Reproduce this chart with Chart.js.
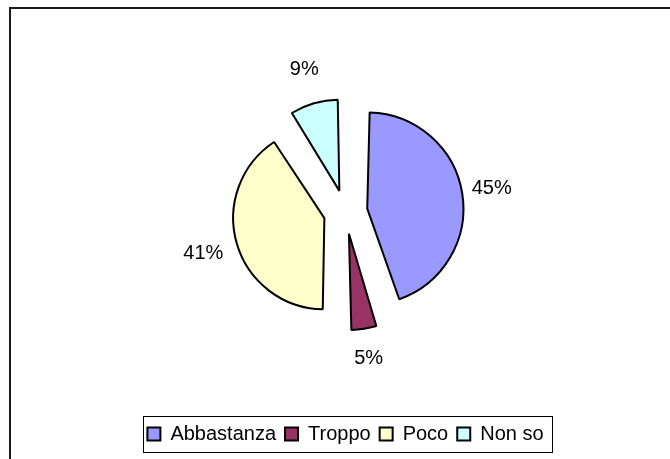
<!DOCTYPE html>
<html>
<head>
<meta charset="utf-8">
<script src="https://cdn.jsdelivr.net/npm/chart.js@4.4.1/dist/chart.umd.min.js"></script>
<style>
  html, body { margin: 0; padding: 0; background: #ffffff; }
  #wrap { width: 670px; height: 459px; position: relative; }
  canvas { display: block; }
</style>
</head>
<body>
<div id="wrap"><canvas id="c" width="670" height="459"></canvas></div>
<script>
const categories = ['Abbastanza', 'Troppo', 'Poco', 'Non so'];
const values = [45, 5, 41, 9];
const percentLabels = ['45%', '5%', '41%', '9%'];
const sliceColors = ['#9999FF', '#993366', '#FFFFCC', '#CCFFFF'];

const FONT = "'Liberation Sans', Arial, sans-serif";
const EXPLODE = 88;

const framePlugin = {
  id: 'frame',
  beforeDraw(chart) {
    const ctx = chart.ctx;
    ctx.save();
    ctx.fillStyle = '#ffffff';
    ctx.fillRect(0, 0, chart.width, chart.height);
    ctx.strokeStyle = '#1a1a1a';
    ctx.lineWidth = 2;
    ctx.strokeRect(10, 8, chart.width + 20, chart.height + 20);
    ctx.restore();
  },
  afterDraw(chart) {
    const lg = chart.legend;
    if (!lg || !lg.legendHitBoxes || !lg.legendHitBoxes.length) return;
    let minX = Infinity, maxX = -Infinity, minY = Infinity, maxY = -Infinity;
    lg.legendHitBoxes.forEach(b => {
      minX = Math.min(minX, b.left); maxX = Math.max(maxX, b.left + b.width);
      minY = Math.min(minY, b.top); maxY = Math.max(maxY, b.top + b.height);
    });
    const ctx = chart.ctx;
    ctx.save();
    ctx.strokeStyle = '#000000';
    ctx.lineWidth = 1;
    ctx.strokeRect(Math.round(minX - 4) + 0.5, Math.round(minY - 8) + 0.5,
                   Math.round(maxX - minX + 13), Math.round(maxY - minY + 16));
    ctx.restore();
  }
};

const pctLabelPlugin = {
  id: 'pctLabels',
  afterDatasetsDraw(chart) {
    const meta = chart.getDatasetMeta(0);
    const ctx = chart.ctx;
    ctx.save();
    ctx.font = '20px ' + FONT;
    ctx.fillStyle = '#000000';
    ctx.textAlign = 'center';
    ctx.textBaseline = 'middle';
    meta.data.forEach((arc, i) => {
      const p = arc.getProps(['x', 'y', 'startAngle', 'endAngle', 'outerRadius'], true);
      const mid = (p.startAngle + p.endAngle) / 2;
      const dist = p.outerRadius + 67;
      ctx.fillText(percentLabels[i], p.x + Math.cos(mid) * dist, p.y + Math.sin(mid) * dist);
    });
    ctx.restore();
  }
};

new Chart(document.getElementById('c'), {
  type: 'pie',
  data: {
    labels: categories,
    datasets: [{
      data: values,
      backgroundColor: sliceColors,
      borderColor: '#000000',
      borderWidth: 2,
      offset: EXPLODE,
      radius: 81
    }]
  },
  options: {
    responsive: false,
    animation: false,
    devicePixelRatio: 1,
    layout: { padding: { left: 21, right: 0, top: 9, bottom: 5 } },
    plugins: {
      tooltip: { enabled: false },
      legend: {
        position: 'bottom',
        labels: {
          boxWidth: 13,
          boxHeight: 13,
          padding: 9,
          color: '#000000',
          font: { family: FONT, size: 20 }
        }
      }
    }
  },
  plugins: [framePlugin, pctLabelPlugin]
});
</script>
</body>
</html>
